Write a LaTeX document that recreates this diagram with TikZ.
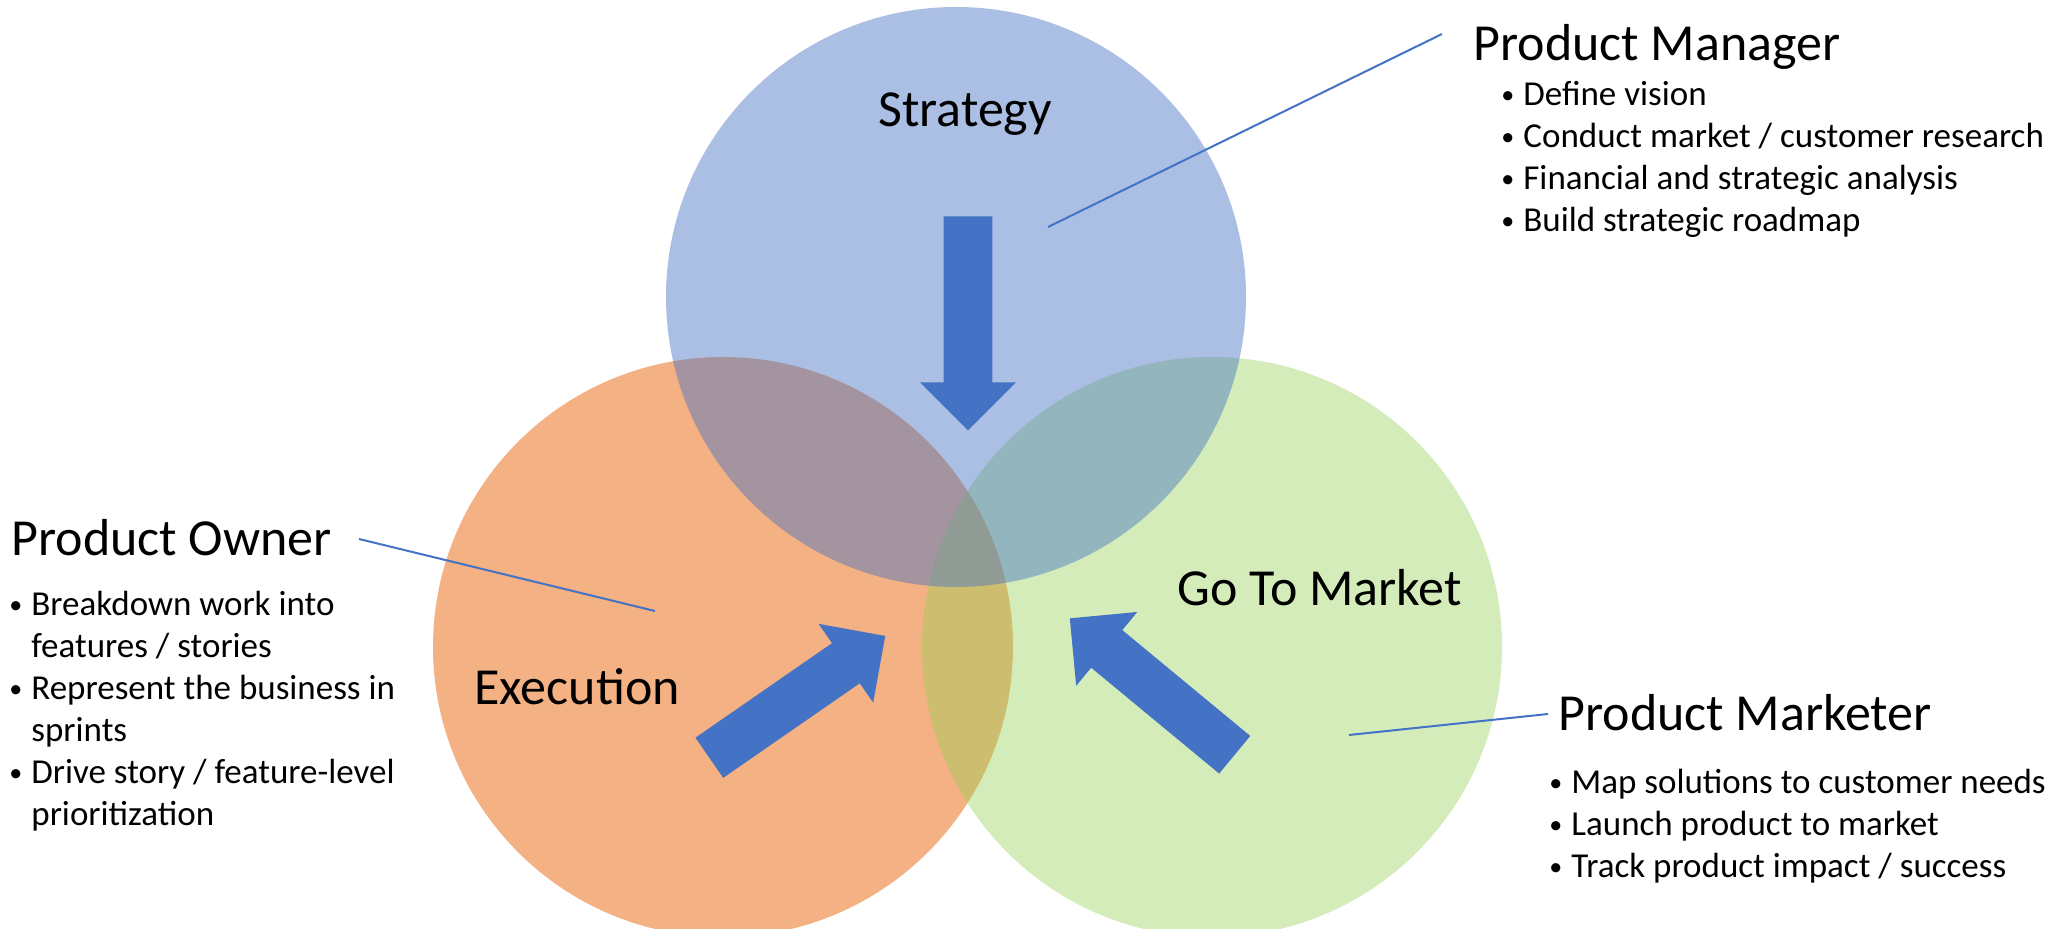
\documentclass[tikz,border=0pt]{standalone}
\usepackage{fontspec}
\setmainfont{Carlito}
\usepackage{tikz}
\usetikzlibrary{shapes.arrows,positioning}
\definecolor{stratblue}{HTML}{4472C4}
\definecolor{execorange}{HTML}{ED7D31}
\definecolor{gtmgreen}{HTML}{92D050}
\newcommand{\bul}{\makebox[11pt][l]{\raisebox{1pt}{\fontsize{13}{13}\selectfont\textbullet}}}
\newcommand{\ind}{\hspace*{11pt}}

\begin{document}
\begin{tikzpicture}[x = 0.5pt, y = 0.5pt,
  venn/.style = {circle, inner sep = 0, minimum size = 290pt},
  blockarrow/.style = {single arrow, fill = stratblue, inner xsep = 0, inner ysep = 12pt, text height = 0, text depth = 0, minimum height = 107pt, single arrow head extend = 11.75pt, anchor = tail},
  leader/.style = {stratblue, line width = 1pt},
  bigtext/.style = {font = \fontsize{26}{31}\selectfont, inner sep = 0, anchor = base west},
  listtext/.style = {font = \fontsize{17.5}{21}\selectfont, inner sep = 0, anchor = base west}]
\useasboundingbox (0,0) rectangle (2055,928);
\clip (0,0) rectangle (2055,928);
% circles
\node[venn, fill = execorange, fill opacity = .6] (exec) at (723,281) {};
\node[venn, fill = gtmgreen, fill opacity = .4] (gtm) at (1212,281) {};
\node[venn, fill = stratblue, fill opacity = .45] (strat) at (956,631) {};
% arrows into the middle
\node[blockarrow, rotate = -90] (down) at (968,712) {};
\node[blockarrow, rotate = 34.7] (upright) at (709,170) {};
\node[blockarrow, rotate = 140.4] (upleft) at (1235,173) {};
% circle names
\node[bigtext] (stratlbl) at (878,801) {Strategy};
\node[bigtext] (execlbl) at (474,224) {Execution};
\node[bigtext] (gtmlbl) at (1177,323) {Go To Market};
% roles
\node[bigtext] (pm) at (1473,867) {Product Manager};
\node[listtext] (pmlist) at (1501,822) {\begin{tabular}[t]{@{}l@{}}
\bul Define vision\\
\bul Conduct market / customer research\\
\bul Financial and strategic analysis\\
\bul Build strategic roadmap
\end{tabular}};
\node[bigtext] (po) at (11,372) {Product Owner};
\node[listtext] (polist) at (9,313) {\begin{tabular}[t]{@{}l@{}}
\bul Breakdown work into\\
\ind features / stories\\
\bul Represent the business in\\
\ind sprints\\
\bul Drive story / feature-level\\
\ind prioritization
\end{tabular}};
\node[bigtext] (pmk) at (1558,198) {Product Marketer};
\node[listtext] (pmklist) at (1549,135) {\begin{tabular}[t]{@{}l@{}}
\bul Map solutions to customer needs\\
\bul Launch product to market\\
\bul Track product impact / success
\end{tabular}};
% leader lines
\coordinate (pm-a) at (1442,894);
\coordinate (pm-b) at (1048,701);
\coordinate (po-a) at (359,389);
\coordinate (po-b) at (655,317);
\coordinate (pmk-a) at (1548,214);
\coordinate (pmk-b) at (1349,193);
\draw[leader] (pm-a) -- (pm-b);
\draw[leader] (po-a) -- (po-b);
\draw[leader] (pmk-a) -- (pmk-b);
\end{tikzpicture}
\end{document}
